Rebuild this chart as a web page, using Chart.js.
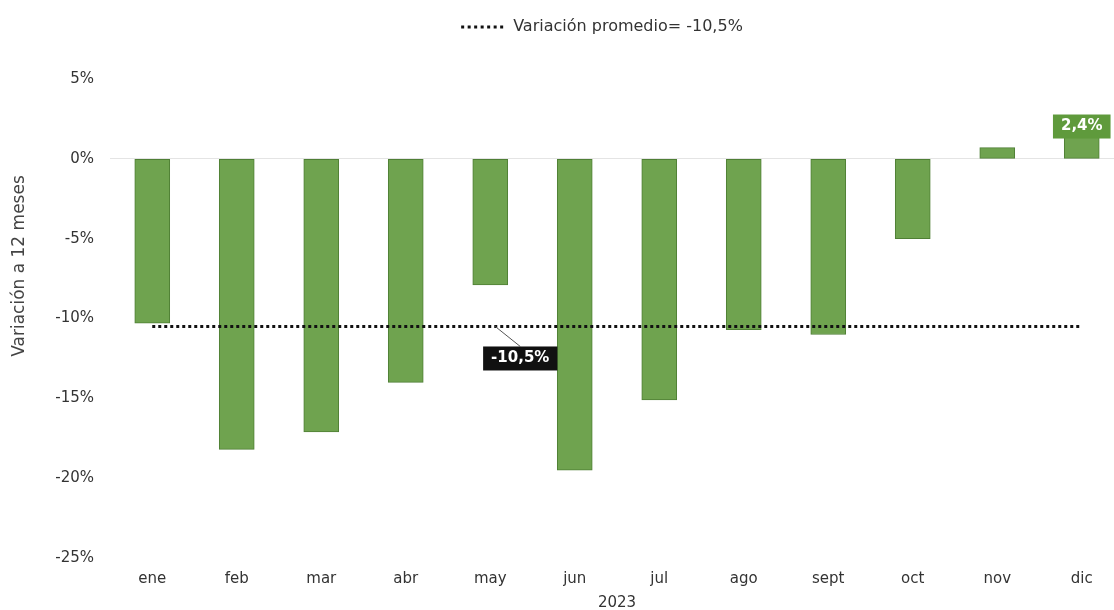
<!DOCTYPE html>
<html>
<head>
<meta charset="utf-8">
<script src="https://cdn.jsdelivr.net/npm/chart.js@4/dist/chart.umd.min.js"></script>
<style>
  html, body { margin: 0; padding: 0; background: #fff; overflow: hidden; }
  #wrap { width: 1128px; height: 612px; position: relative; }
</style>
</head>
<body>
<div id="wrap"><canvas id="chart"></canvas></div>
<script>
"use strict";

// Data ----------------------------------------------------------------------
const MONTHS = ["ene", "feb", "mar", "abr", "may", "jun", "jul", "ago", "sept", "oct", "nov", "dic"];
const VARIATION = [-10.3, -18.2, -17.1, -14.0, -7.9, -19.5, -15.1, -10.7, -11.0, -5.0, 0.7, 2.4];
const AVERAGE = -10.5;
const Y_TICKS = [5, 0, -5, -10, -15, -20, -25];

const FONT = "'DejaVu Sans', Verdana, sans-serif";
const GREEN = "#6fa34f";

function fmtPct(v) {
  return v.toFixed(1).replace(".", ",") + "%";
}

// Plugins -------------------------------------------------------------------
// extra room between legend and plot, and legend nudged right
const legendGap = {
  id: "legendGap",
  beforeInit(chart) {
    const fit = chart.legend.fit;
    chart.legend.fit = function () {
      fit.bind(chart.legend)();
      this.height += 34;
    };
  },
  afterLayout(chart) {
    chart.legend.left += 80;
  },
};

const labels = {
  id: "labels",
  afterDatasetsDraw(chart) {
    const { ctx, scales: { x, y } } = chart;
    ctx.save();
    ctx.font = "bold 15px " + FONT;
    ctx.textAlign = "center";
    ctx.textBaseline = "middle";

    // average annotation, hung off the line between may and jun
    const ax = x.getPixelForValue(4) + 5;
    const ay = y.getPixelForValue(AVERAGE);
    const bx = ax + 25, by = ay + 32;
    ctx.strokeStyle = "#555";
    ctx.lineWidth = 1;
    ctx.beginPath();
    ctx.moveTo(ax, ay);
    ctx.lineTo(bx, by - 12);
    ctx.stroke();
    const t1 = fmtPct(AVERAGE);
    const w1 = ctx.measureText(t1).width + 16;
    ctx.fillStyle = "#111";
    ctx.fillRect(bx - w1 / 2, by - 12, w1, 24);
    ctx.fillStyle = "#fff";
    ctx.fillText(t1, bx, by);

    // last value label on dic bar
    const last = VARIATION.length - 1;
    const lx = x.getPixelForValue(last);
    const ly = y.getPixelForValue(VARIATION[last]);
    const t2 = fmtPct(VARIATION[last]);
    const w2 = ctx.measureText(t2).width + 16;
    ctx.fillStyle = "#5f9a3c";
    ctx.fillRect(lx - w2 / 2, ly - 6, w2, 24);
    ctx.fillStyle = "#fff";
    ctx.fillText(t2, lx, ly + 6);

    // y axis title
    ctx.font = "17px " + FONT;
    ctx.fillStyle = "#444";
    ctx.translate(20, 266);
    ctx.rotate(-Math.PI / 2);
    ctx.fillText("Variación a 12 meses", 0, 0);
    ctx.restore();
  },
};

// Chart ---------------------------------------------------------------------
Chart.defaults.font.family = FONT;
Chart.defaults.color = "#333";

new Chart(document.getElementById("chart"), {
  type: "bar",
  data: {
    labels: MONTHS,
    datasets: [
      {
        type: "line",
        label: "Variación promedio= " + fmtPct(AVERAGE),
        data: MONTHS.map(() => AVERAGE),
        borderColor: "#111",
        borderWidth: 3,
        borderDash: [3, 3],
        pointRadius: 0,
        order: 0,
      },
      {
        label: "Variación",
        data: VARIATION,
        backgroundColor: GREEN,
        borderColor: "#4f7f35",
        borderWidth: 1,
        borderSkipped: false,
        barThickness: 35,
        order: 1,
      },
    ],
  },
  options: {
    responsive: true,
    maintainAspectRatio: false,
    animation: false,
    layout: { padding: { left: 0, right: 4, top: 9, bottom: 0 } },
    plugins: {
      legend: {
        position: "top",
        labels: {
          usePointStyle: true,
          pointStyle: "line",
          pointStyleWidth: 44,
          boxHeight: 10,
          color: "#333",
          font: { size: 16 },
          padding: 10,
          generateLabels: (chart) => [{
            text: chart.data.datasets[0].label,
            datasetIndex: 0,
            pointStyle: "line",
            strokeStyle: "#111",
            fillStyle: "#111",
            lineWidth: 3,
            lineDash: [3, 3.5],
            fontColor: "#333",
          }],
        },
      },
      tooltip: { enabled: false },
    },
    scales: {
      x: {
        grid: { display: false },
        border: { display: false },
        ticks: { color: "#333", font: { size: 15 }, padding: 4 },
        title: { display: true, text: "2023", color: "#333", font: { size: 15 }, padding: { top: 2, bottom: 0 } },
      },
      y: {
        min: -25,
        max: 5,
        afterBuildTicks: (s) => { s.ticks = Y_TICKS.map((v) => ({ value: v })); },
        afterFit: (s) => { s.width = 110; },
        grid: {
          drawTicks: false,
          color: (c) => (c.tick.value === 0 ? "#e4e4e4" : "rgba(0,0,0,0)"),
        },
        border: { display: false },
        ticks: { color: "#333", font: { size: 15 }, padding: 16, callback: (v) => v + "%" },
      },
    },
  },
  plugins: [legendGap, labels],
});
</script>
</body>
</html>
